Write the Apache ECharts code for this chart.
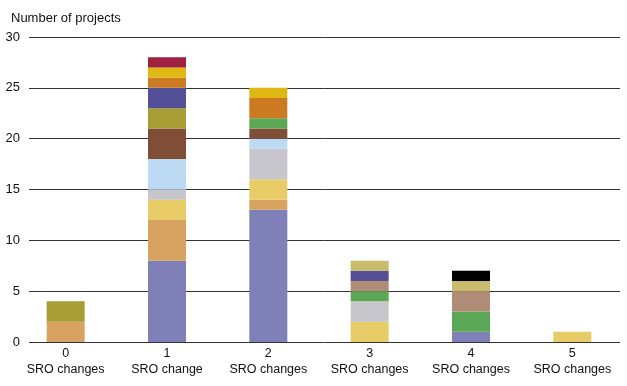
<!DOCTYPE html>
<html><head><meta charset="utf-8">
<script src="https://cdn.jsdelivr.net/npm/echarts@6/dist/echarts.min.js"></script>
<style>html,body{margin:0;padding:0;background:#fff}#c{width:627px;height:386px}</style>
</head><body><div id="c"></div>
<script>
const categories = ['0\nSRO changes','1\nSRO change','2\nSRO changes','3\nSRO changes','4\nSRO changes','5\nSRO changes'];
const yTicks = [0,5,10,15,20,25,30];
// segment series (bottom to top), values per category
const purple    = [0, 8, 13, 0, 1, 0];
const tan       = [2, 4, 1, 0, 0, 0];
const yellow    = [0, 2, 2, 2, 0, 1];
const grey      = [0, 1, 3, 2, 0, 0];
const lightBlue = [0, 3, 1, 0, 0, 0];
const brown     = [0, 3, 1, 0, 0, 0];
const green     = [0, 0, 1, 1, 2, 0];
const olive     = [2, 2, 0, 0, 0, 0];
const rosyBrown = [0, 0, 0, 1, 2, 0];
const darkBlue  = [0, 2, 0, 1, 0, 0];
const khaki     = [0, 0, 0, 1, 1, 0];
const black     = [0, 0, 0, 0, 1, 0];
const orange    = [0, 1, 2, 0, 0, 0];
const gold      = [0, 1, 1, 0, 0, 0];
const crimson   = [0, 1, 0, 0, 0, 0];

const segs = [
  [purple,'#8080b8'],[tan,'#d8a260'],[yellow,'#e8cc68'],[grey,'#c6c6cc'],
  [lightBlue,'#bcdaf4'],[brown,'#804e36'],[green,'#5aa855'],[olive,'#a89c34'],
  [rosyBrown,'#b08c76'],[darkBlue,'#545098'],[khaki,'#c8bc6c'],[black,'#000000'],
  [orange,'#cc7a22'],[gold,'#e0b814'],[crimson,'#a02040']
];

const font = 'Liberation Sans, Arial, Helvetica, sans-serif';
const chart = echarts.init(document.getElementById('c'), null, {renderer:'canvas'});
const series = segs.map(([d,c]) => ({
  type:'bar', stack:'s', data:d.map(v=>v===0?null:v), barWidth:38,
  xAxisIndex:0, yAxisIndex:0, itemStyle:{color:c}, emphasis:{disabled:true}, animation:false
}));
chart.setOption({
  animation:false,
  title:{text:'Number of projects', left:6, top:7, textStyle:{fontFamily:font, fontSize:13, fontWeight:'normal', color:'#111'}},
  grid:[
    {left:15, right:4, top:37, bottom:44},
    {left:29, right:7, top:37, bottom:44}
  ],
  xAxis:[
    {type:'category', gridIndex:0, data:categories, axisLine:{show:false}, axisTick:{show:false},
     axisLabel:{fontFamily:font, fontSize:12.5, color:'#111', lineHeight:16, margin:4, interval:0, hideOverlap:false}},
    {type:'category', gridIndex:1, data:['a'], show:false}
  ],
  yAxis:[
    {type:'value', gridIndex:0, min:0, max:30, interval:5, show:false, splitLine:{show:false}},
    {type:'value', gridIndex:1, min:0, max:30, interval:5, axisLine:{show:false}, axisTick:{show:false},
     axisLabel:{fontFamily:font, fontSize:13, color:'#111', margin:9, formatter:v=>yTicks.includes(v)?String(v):''},
     splitLine:{lineStyle:{color:'#333', width:1}}, z:0}
  ],
  series: series
});
</script></body></html>
